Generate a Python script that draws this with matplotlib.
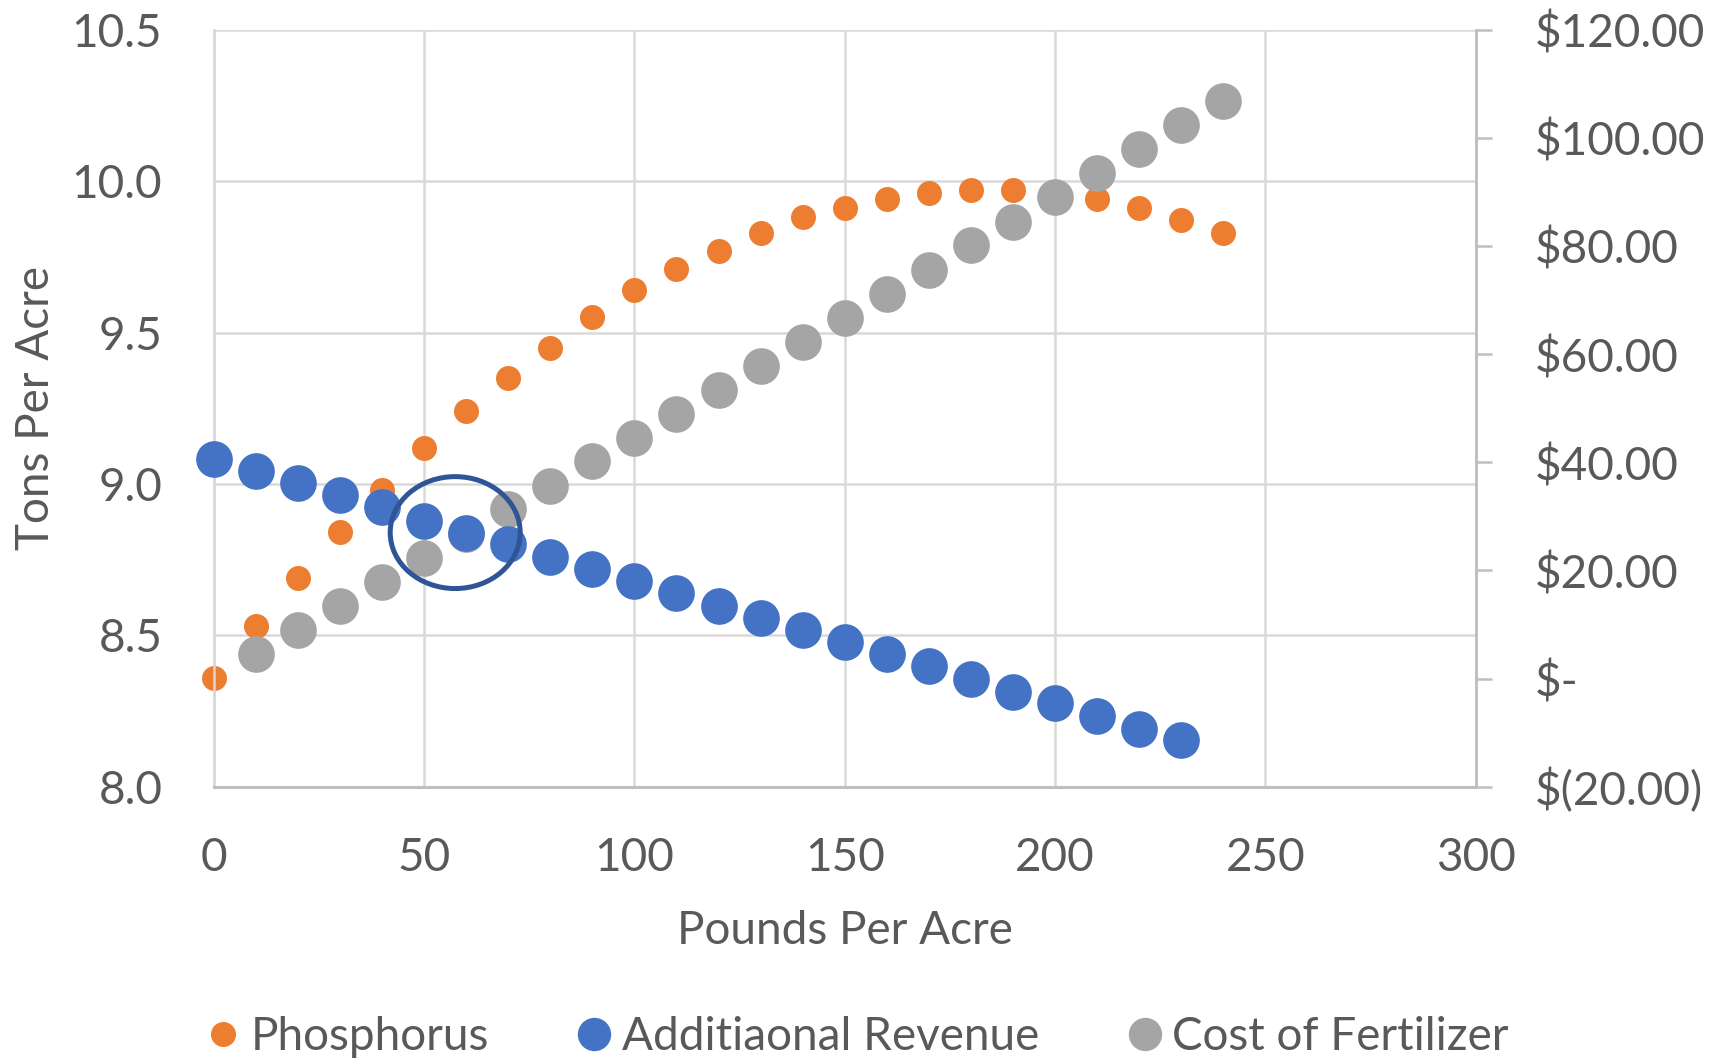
import numpy as np
import matplotlib
matplotlib.use("Agg")
import matplotlib.pyplot as plt
from matplotlib.patches import Ellipse
from matplotlib.lines import Line2D
from matplotlib.ticker import FuncFormatter, MultipleLocator

plt.rcParams['font.family'] = ['Lato', 'DejaVu Sans']

# Yield (tons/acre) vs phosphorus applied (lb/acre)
phos_lbs = [0, 10, 20, 30, 40, 50, 60, 70, 80, 90, 100, 110, 120,
            130, 140, 150, 160, 170, 180, 190, 200, 210, 220, 230, 240]
phos_tons = [8.36, 8.53, 8.69, 8.84, 8.98, 9.12, 9.24, 9.35, 9.45, 9.55, 9.64, 9.71, 9.77,
             9.83, 9.88, 9.91, 9.94, 9.96, 9.97, 9.97, 9.96, 9.94, 9.91, 9.87, 9.83]

# Additional revenue ($/acre)
rev_lbs = [0, 10, 20, 30, 40, 50, 60, 70, 80, 90, 100, 110, 120,
           130, 140, 150, 160, 170, 180, 190, 200, 210, 220, 230]
revenue = [40.6, 38.4, 36.1, 33.9, 31.7, 29.2, 27.0, 24.8, 22.5, 20.3, 18.1, 15.9, 13.4,
           11.2, 9.0, 6.7, 4.5, 2.3, -0.1, -2.4, -4.6, -7.0, -9.3, -11.3]

# Cost of fertilizer ($/acre)
cost_lbs = [10, 20, 30, 40, 50, 60, 70, 80, 90, 100, 110, 120,
            130, 140, 150, 160, 170, 180, 190, 200, 210, 220, 230, 240]
cost = [4.5, 9.0, 13.4, 17.9, 22.3, 26.8, 31.3, 35.7, 40.2, 44.4, 48.9, 53.3,
        57.8, 62.3, 66.7, 71.2, 75.6, 80.1, 84.5, 89.0, 93.5, 97.9, 102.4, 106.8]

# break-even highlight (x in lb/acre, y in $)
circle_x, circle_y = 57.4, 27.0
circle_w, circle_h = 30.9, 20.7

ORANGE = '#ED7D31'
BLUE = '#4472C4'
GRAY = '#A5A5A5'
TEXT = '#595959'
GRID = '#D9D9D9'
AXLINE = '#BFBFBF'
FS = 33

fig = plt.figure(figsize=(17.18, 10.6), dpi=100)
ax = fig.add_axes([0.1244, 0.2578, 0.7346, 0.7142])
ax2 = ax.twinx()

ax.scatter(phos_lbs, phos_tons, s=324, color=ORANGE, linewidths=0, clip_on=False, zorder=3)
ax2.scatter(cost_lbs, cost, s=697, color=GRAY, linewidths=0, clip_on=False, zorder=3)
ax2.scatter(rev_lbs, revenue, s=697, color=BLUE, linewidths=0, clip_on=False, zorder=4)
ax2.add_patch(Ellipse((circle_x, circle_y), circle_w, circle_h, fill=False,
                      edgecolor='#2F5597', lw=3.6, zorder=5))

# left axis
ax.set_xlim(0, 300)
ax.set_ylim(8.0, 10.5)
ax.xaxis.set_major_locator(MultipleLocator(50))
ax.yaxis.set_major_locator(MultipleLocator(0.5))
ax.yaxis.set_major_formatter(FuncFormatter(lambda v, p: f"{v:.1f}"))
ax.grid(True, color=GRID, lw=1.8)
ax.set_axisbelow(True)
ax.tick_params(axis='both', length=0, labelsize=FS, labelcolor=TEXT)
ax.tick_params(axis='y', pad=37)
ax.tick_params(axis='x', pad=36)

# right axis
def dollars(v, p):
    if abs(v) < 1e-9:
        return "$-"
    if v < 0:
        return f"$({-v:.2f})"
    return f"${v:.2f}"

ax2.set_ylim(-20, 120)
ax2.yaxis.set_major_locator(MultipleLocator(20))
ax2.yaxis.set_major_formatter(FuncFormatter(dollars))
ax2.tick_params(axis='y', length=11.5, width=1.8, color=AXLINE, direction='out',
                labelsize=FS, labelcolor=TEXT, pad=31)

for a in (ax, ax2):
    a.spines['top'].set_visible(False)
    a.spines['left'].set_color(GRID)
    a.spines['left'].set_linewidth(1.8)
    a.spines['bottom'].set_color(AXLINE)
    a.spines['bottom'].set_linewidth(2.2)
    a.spines['right'].set_color(AXLINE)
    a.spines['right'].set_linewidth(1.8)

ax.set_xlabel("Pounds Per Acre", fontsize=FS, color=TEXT)
ax.set_ylabel("Tons Per Acre", fontsize=FS, color=TEXT)
ax.xaxis.label.set_va('center')
ax.xaxis.set_label_coords(0.5, -0.19)
ax.yaxis.label.set_va('center')
ax.yaxis.set_label_coords(-0.141, 0.5)

handles = [
    Line2D([], [], ls='none', marker='o', markersize=18, color=ORANGE, markeredgewidth=0),
    Line2D([], [], ls='none', marker='o', markersize=24, color=BLUE, markeredgewidth=0),
    Line2D([], [], ls='none', marker='o', markersize=24, color=GRAY, markeredgewidth=0),
]
labels = ["Phosphorus", "Additiaonal Revenue", "Cost of Fertilizer"]
leg = fig.legend(handles, labels, loc='center', bbox_to_anchor=(0.5, 0.022), ncol=3,
                 frameon=False, fontsize=FS, handlelength=0.6, handletextpad=0.3,
                 columnspacing=2.0, borderpad=0)
for t in leg.get_texts():
    t.set_color(TEXT)

fig.savefig("out.png", dpi=100)
